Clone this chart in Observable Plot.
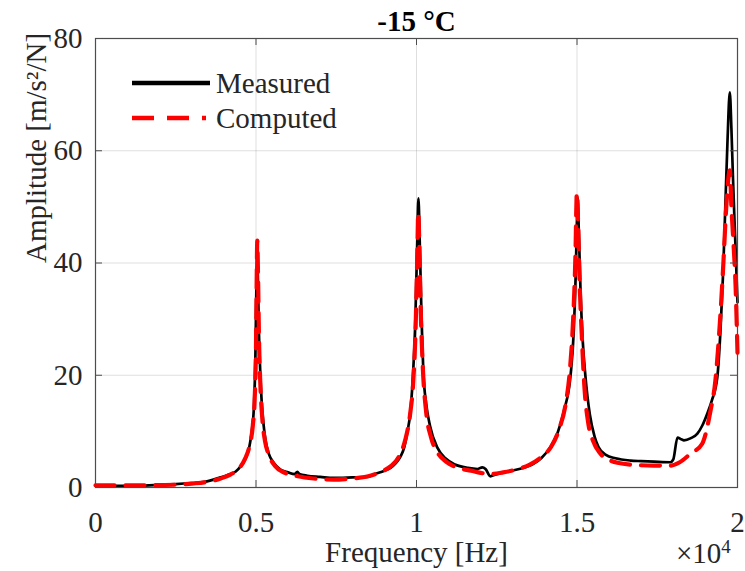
<!DOCTYPE html>
<html><head><meta charset="utf-8">
<script src="https://cdn.jsdelivr.net/npm/d3@7"></script>
<script src="https://cdn.jsdelivr.net/npm/@observablehq/plot@0.6"></script>
<style>
body{margin:0;background:#fff}
#wrap{position:relative;width:745px;height:571px;font-family:"Liberation Serif","Times New Roman",serif;color:#262626}
#wrap svg{display:block}
.ov{position:absolute;white-space:nowrap;font-size:29px;line-height:1}
</style>
</head><body><div id="wrap"></div>
<script>
const titleText = "-15 °C";
const xLabel = "Frequency [Hz]";
const yLabel = "Amplitude [m/s²/N]";
const seriesNames = ["Measured", "Computed"];
const xTicks = [0, 5000, 10000, 15000, 20000];
const xTickLabels = ["0", "0.5", "1", "1.5", "2"];
const yTicks = [0, 20, 40, 60, 80];

const fMeasured = [0,500,1000,1500,2000,2500,3000,3400,3890,4100,4360,4550,4700,4800,4880,4940,4980,5010,5035,5060,5090,5130,5180,5240,5300,5400,5550,5760,6000,6200,6290,6350,6600,7000,7420,8000,8470,8700,9000,9190,9350,9500,9620,9720,9800,9880,9960,10020,10060,10100,10150,10220,10300,10420,10650,10900,11200,11600,11900,12050,12150,12300,12450,12800,13200,13640,13900,14170,14400,14600,14800,14900,14960,15000,15020,15060,15110,15180,15260,15400,15550,15670,15900,16200,16670,17000,17400,17910,18000,18130,18250,18330,18550,18750,18900,19060,19200,19370,19470,19550,19620,19690,19760,19810,19860,19910,19950,20000];
const aMeasured = [0.3,0.3,0.3,0.35,0.45,0.6,0.8,1.0,1.8,2.2,2.8,4.0,5.5,7.5,10.5,15,23,35,42,37,28,21,15,11,8.3,6,4.4,3.2,2.7,2.4,2.8,2.4,2.1,1.9,1.7,1.8,1.9,2.4,3.0,3.5,4.3,5.5,7.2,10,13,19,29,43,51.5,44,32,20,15,11,7.1,5.2,4.1,3.5,3.3,3.6,3.3,2.0,2.3,2.8,3.3,4.2,5.3,7.2,9.8,13.8,20,28,38,48,51.7,45,35,26,20,13,9,7.2,5.8,5.2,4.8,4.7,4.6,4.5,5.0,8.9,8.6,8.4,8.8,9.6,11,13.2,15.5,19.6,28,38,50,62,70.4,64,55,47,41,33];

const fComputed = [0,500,1500,2500,3000,3500,3900,4200,4450,4650,4800,4900,4960,5000,5020,5040,5065,5095,5135,5200,5280,5400,5600,5900,6300,6800,7400,8000,8500,8900,9200,9450,9650,9800,9900,9970,10020,10055,10085,10130,10200,10300,10450,10650,10950,11300,11700,12000,12300,12700,13100,13500,13900,14200,14450,14650,14780,14880,14950,14995,15035,15080,15150,15230,15350,15500,15730,16000,16260,16880,17400,17900,18200,18530,18900,19160,19310,19470,19560,19650,19760,19810,19870,19940,20000];
const aComputed = [0.4,0.4,0.4,0.5,0.7,1.0,1.6,2.3,3.3,5,7.5,11,16,25,36,44,37,26,18.5,12,8.3,5.8,3.8,2.6,2.0,1.6,1.4,1.6,2.0,2.8,3.8,5.5,8.5,13,19,28,40,49,44,32,21,13.5,9,6.3,4.5,3.5,3.0,2.6,2.4,2.7,3.2,4.0,5.5,7.3,10.5,15,21,30,41,52.5,47,37,27,18,11.5,8.3,6.0,4.9,4.4,4.0,3.9,3.9,4.5,6.0,7.8,13.7,19,31,40,50,56.5,50,44,36,24];

const measured = fMeasured.map((f, i) => ({f, a: aMeasured[i], s: seriesNames[0]}));
const computed = fComputed.map((f, i) => ({f, a: aComputed[i], s: seriesNames[1]}));

const FONT = "'Liberation Serif', 'Times New Roman', serif";
const FS = 29;
const W = 745, H = 571, mL = 95, mR = 8, mT = 38, mB = 84;
const plotW = W - mL - mR, plotH = H - mT - mB;
const frameColor = "#4d4d4d";
const tickLen = 7;

const chart = Plot.plot({
  width: W, height: H,
  marginLeft: mL, marginRight: mR, marginTop: mT, marginBottom: mB,
  style: {fontFamily: FONT, fontSize: FS + "px", background: "white", color: "#262626", overflow: "visible"},
  x: {domain: [0, 20000], axis: null},
  y: {domain: [0, 80], axis: null},
  marks: [
    Plot.gridX(xTicks.slice(1, -1), {stroke: "#000", strokeOpacity: 0.13, strokeWidth: 1}),
    Plot.gridY(yTicks.slice(1, -1), {stroke: "#000", strokeOpacity: 0.13, strokeWidth: 1}),
    Plot.line(measured, {x: "f", y: "a", stroke: "#000", strokeWidth: 2.7, curve: "monotone-x"}),
    Plot.line(computed, {x: "f", y: "a", stroke: "#ff0000", strokeWidth: 4.2, strokeDasharray: "19,11", curve: "monotone-x"}),
    Plot.frame({stroke: frameColor, strokeWidth: 1.2}),
    Plot.tickX(xTicks.slice(1, -1), {x: d => d, insetTop: plotH - tickLen, stroke: frameColor}),
    Plot.tickX(xTicks.slice(1, -1), {x: d => d, insetBottom: plotH - tickLen, stroke: frameColor}),
    Plot.tickY(yTicks.slice(1, -1), {y: d => d, insetRight: plotW - tickLen, stroke: frameColor}),
    Plot.tickY(yTicks.slice(1, -1), {y: d => d, insetLeft: plotW - tickLen, stroke: frameColor}),
    Plot.axisX(xTicks, {anchor: "bottom", tickSize: 0, tickPadding: 24, tickFormat: d => xTickLabels[xTicks.indexOf(d)], fontSize: FS, fill: "#262626", label: null}),
    Plot.axisY(yTicks, {anchor: "left", tickSize: 0, tickPadding: 13, fontSize: FS, fill: "#262626", label: null}),
    Plot.text([titleText], {frameAnchor: "top", lineAnchor: "middle", dy: -17, fontWeight: "bold", fontSize: FS, fill: "#000"}),
    Plot.text([xLabel], {frameAnchor: "bottom", lineAnchor: "middle", dy: 65, fontSize: FS, fill: "#262626"}),
    Plot.text([yLabel], {frameAnchor: "left", lineAnchor: "middle", dx: -59, rotate: -90, fontSize: FS, fill: "#262626"})
  ]
});

const wrap = document.getElementById("wrap");
wrap.appendChild(chart);

// legend overlay
const ns = "http://www.w3.org/2000/svg";
const leg = document.createElementNS(ns, "svg");
leg.setAttribute("width", W); leg.setAttribute("height", H);
leg.style.position = "absolute"; leg.style.left = "0"; leg.style.top = "0"; leg.style.pointerEvents = "none";
const legendItems = [
  {name: seriesNames[0], color: "#000", dash: null, width: 4.4, y: 83, x2: 210},
  {name: seriesNames[1], color: "#ff0000", dash: "22,13", width: 4.4, y: 118, x2: 206}
];
legendItems.forEach(it => {
  const l = document.createElementNS(ns, "line");
  l.setAttribute("x1", 132); l.setAttribute("x2", it.x2);
  l.setAttribute("y1", it.y); l.setAttribute("y2", it.y);
  l.setAttribute("stroke", it.color); l.setAttribute("stroke-width", it.width);
  if (it.dash) l.setAttribute("stroke-dasharray", it.dash);
  leg.appendChild(l);
  const t = document.createElementNS(ns, "text");
  t.setAttribute("x", 216); t.setAttribute("y", it.y);
  t.setAttribute("dy", "0.35em");
  t.style.fontFamily = FONT;
  t.setAttribute("font-size", FS);
  t.setAttribute("fill", "#262626");
  t.textContent = it.name;
  leg.appendChild(t);
});
wrap.appendChild(leg);

// x10^4 exponent label
const ex = document.createElement("div");
ex.className = "ov";
ex.style.left = "676px"; ex.style.top = "537px";
ex.innerHTML = "×10<sup style='font-size:19px;vertical-align:10px'>4</sup>";
wrap.appendChild(ex);
</script>
</body></html>
